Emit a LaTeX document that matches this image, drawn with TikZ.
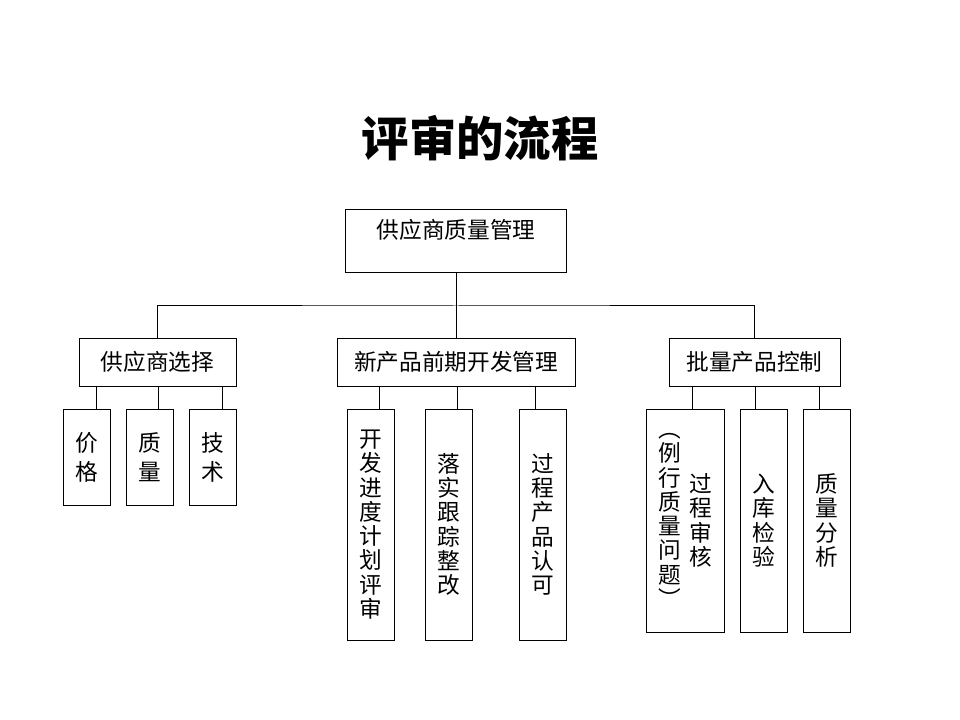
\documentclass[tikz,border=0pt]{standalone}
\usepackage{fontspec}
\setmainfont{Noto Sans CJK SC}
\usetikzlibrary{positioning,calc}

\tikzset{
  box/.style={draw, inner sep=0pt, align=center, font=\fontsize{17}{18.2}\selectfont},
  leaf/.style={box, minimum width=35.25pt},
  tall/.style={leaf, minimum height=173.25pt},
  mid/.style={box, minimum height=36pt},
}

\begin{document}
\begin{tikzpicture}[x=0.75pt, y=-0.75pt, line width=0.75pt]
  \useasboundingbox (0,0) rectangle (960,720);

  % Title
  \node[font=\fontsize{35.5}{40}\selectfont\bfseries] (title) at (480,138) {评审的流程};

  % Root
  \node[box, minimum width=165.75pt, minimum height=47.25pt,
        text height=12.75pt, text depth=16.5pt] (sqm) at (456,241.5) {供应商质量管理};

  % Second level
  \node[mid, minimum width=117.75pt] (sel) at (157.5,362) {供应商选择};
  \node[mid, minimum width=178.5pt] (dev) at (456,362) {新产品前期开发管理};
  \node[mid, minimum width=128.25pt] (ctrl) at (754.5,362) {批量产品控制};

  % Supplier selection
  \node[leaf, minimum height=72pt, font=\fontsize{17}{21.75}\selectfont] (price) at (87,457) {价\\格};
  \node[leaf, minimum height=72pt, font=\fontsize{17}{21.75}\selectfont] (qual) at (150,457) {质\\量};
  \node[leaf, minimum height=72pt, font=\fontsize{17}{21.75}\selectfont] (tech) at (212.5,457) {技\\术};

  % New product development
  \node[tall] (plan) at (370.5,524.5) {开\\发\\进\\度\\计\\划\\评\\审};
  \node[tall] (track) at (449,524.5) {落\\实\\跟\\踪\\整\\改};
  \node[tall] (approve) at (543,524.5) {过\\程\\产\\品\\认\\可};

  % Batch control
  \node[box, minimum width=58.5pt, minimum height=167.25pt] (audit) at (685,520.5)
    {\parbox[c]{17pt}{\centering ︵\\例\\行\\质\\量\\问\\题\\︶}\hspace{6pt}%
     \parbox[c]{17pt}{\centering 过\\程\\审\\核}};
  \node[leaf, minimum height=167.25pt] (inspect) at (764,520.5) {入\\库\\检\\验};
  \node[leaf, minimum height=167.25pt] (analysis) at (826.5,520.5) {质\\量\\分\\析};

  % Connectors
  \coordinate (bus) at (456,306);
  \draw (sqm.south) -- (dev.north);
  \draw (sel.north) |- (bus) -| (ctrl.north);
  \foreach \n/\x in {price/96, qual/158, tech/222}
    \draw (sel.south -| \x,0) -- (\n.north -| \x,0);
  \foreach \n/\x in {plan/379, track/457, approve/535}
    \draw (dev.south -| \x,0) -- (\n.north -| \x,0);
  \foreach \n/\x in {audit/692, inspect/755, analysis/819}
    \draw (ctrl.south -| \x,0) -- (\n.north -| \x,0);
\end{tikzpicture}
\end{document}
